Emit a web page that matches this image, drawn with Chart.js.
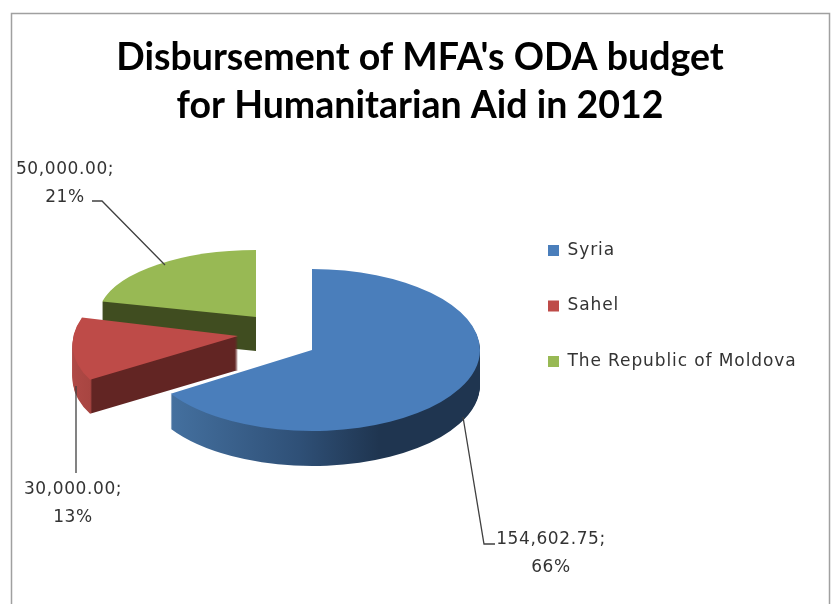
<!DOCTYPE html>
<html>
<head>
<meta charset="utf-8">
<script src="https://cdn.jsdelivr.net/npm/chart.js@4/dist/chart.umd.min.js"></script>
<style>
  html, body { margin: 0; padding: 0; background: #fff; overflow: hidden; }
  canvas { display: block; }
</style>
</head>
<body>
<canvas id="pie" width="831" height="604"></canvas>
<script>
const titleLines = ["Disbursement of MFA's ODA budget", "for Humanitarian Aid in 2012"];
const categories = ["Syria", "Sahel", "The Republic of Moldova"];
const amounts = [154602.75, 30000, 50000];
const topColors = ["#4a7ebb", "#be4b48", "#98b954"];

// where each exploded slice lands on the page (apex, ellipse radii, lean, wall depth)
const sliceBoxes = [
  { x: 312, y: 350, rx: 168, ry: 81, lean: 0, depth: 35 },
  { x: 238, y: 336, rx: 164.5, ry: 80.7, lean: -0.22, depth: 34 },
  { x: 256, y: 317, rx: 158, ry: 67, lean: 0, depth: 34 }
];
// wall shading, left to right across the ellipse
const wallStops = [
  [[0, "#4a7bb5"], [0.08, "#44709f"], [0.46, "#2f5077"], [0.7, "#1f3550"], [1, "#1f3550"]],
  [[0, "#b04a47"], [0.08, "#a84541"], [0.085, "#622523"], [1, "#622523"]],
  [[0, "#404d20"], [1, "#404d20"]]
];
const labelSpots = [
  { x: 551, y: 540 },
  { x: 73, y: 490 },
  { x: 65, y: 170 }
];
const leaders = [
  [[463, 417], [484, 544], [495, 544]],
  [[76, 386], [76, 473]],
  [[92, 201], [102, 201], [165, 265]]
];

const total = amounts.reduce((a, b) => a + b, 0);
const labelFont = '17px "DejaVu Sans"';

function placeSlice(ctx, arc, box, drop) {
  const R = arc.outerRadius;
  ctx.translate(box.x, box.y + drop);
  ctx.transform(1, 0, box.lean, 1, 0, 0);
  ctx.scale(box.rx / R, box.ry / R);
  ctx.translate(-arc.x, -arc.y);
}

function paintArc(ctx, arc, fill) {
  const saved = arc.options;
  arc.options = {
    backgroundColor: fill, borderWidth: 0, borderColor: fill, borderRadius: 0,
    borderJoinStyle: "round", borderDash: [], borderDashOffset: 0,
    offset: 0, spacing: 0, circular: true
  };
  arc.draw(ctx);
  arc.options = saved;
}

const piePlugin = {
  id: "pie3d",
  beforeDraw(chart) {
    const ctx = chart.ctx;
    ctx.save();
    ctx.strokeStyle = "#a0a0a0";
    ctx.lineWidth = 1.5;
    ctx.strokeRect(11.5, 13.5, 818, 640);
    ctx.restore();
  },
  afterLayout(chart) {
    const legend = chart.legend;
    legend.left = 509.5;
    legend.top = 203.5;
    if (!legend.spaced) {
      const plainDraw = legend.draw;
      legend.draw = function () {
        chart.ctx.letterSpacing = "0.9px";
        plainDraw.apply(legend, arguments);
        chart.ctx.letterSpacing = "0px";
      };
      legend.spaced = true;
    }
  },
  beforeDatasetDraw(chart, args) {
    const ctx = chart.ctx;
    const arcs = args.meta.data;
    // back to front so the big slice sits on top
    for (let i = arcs.length - 1; i >= 0; i--) {
      const arc = arcs[i];
      const box = sliceBoxes[i];
      const R = arc.outerRadius;
      const grad = ctx.createLinearGradient(arc.x - R, 0, arc.x + R, 0);
      wallStops[i].forEach(s => grad.addColorStop(s[0], s[1]));
      for (let d = box.depth; d > 0; d--) {
        ctx.save();
        placeSlice(ctx, arc, box, d);
        paintArc(ctx, arc, grad);
        ctx.restore();
      }
      ctx.save();
      placeSlice(ctx, arc, box, 0);
      paintArc(ctx, arc, topColors[i]);
      ctx.restore();
    }
    return false;
  },
  afterDatasetsDraw(chart) {
    const ctx = chart.ctx;
    ctx.save();
    ctx.strokeStyle = "#404040";
    ctx.lineWidth = 1.3;
    leaders.forEach(pts => {
      ctx.beginPath();
      pts.forEach((p, i) => (i ? ctx.lineTo(p[0], p[1]) : ctx.moveTo(p[0], p[1])));
      ctx.stroke();
    });
    ctx.fillStyle = "#333";
    ctx.font = labelFont;
    ctx.letterSpacing = "0.6px";
    ctx.textAlign = "center";
    ctx.textBaseline = "middle";
    amounts.forEach((v, i) => {
      const txt = v.toLocaleString("en-US", { minimumFractionDigits: 2, maximumFractionDigits: 2 }) + ";";
      const pct = Math.round(v / total * 100) + "%";
      ctx.fillText(txt, labelSpots[i].x, labelSpots[i].y);
      ctx.fillText(pct, labelSpots[i].x, labelSpots[i].y + 28);
    });
    ctx.letterSpacing = "0px";
    ctx.restore();
  }
};

new Chart(document.getElementById("pie"), {
  type: "pie",
  data: {
    labels: categories,
    datasets: [{ data: amounts, backgroundColor: topColors, borderWidth: 0 }]
  },
  options: {
    responsive: false,
    animation: false,
    layout: { padding: { left: 9, right: 0, top: 34, bottom: 0 } },
    plugins: {
      tooltip: { enabled: false },
      title: {
        display: true,
        text: titleLines,
        color: "#000",
        font: { family: "Lato", size: 37.5, weight: "bold", lineHeight: 1.28 },
        padding: { top: 0, bottom: 10 }
      },
      legend: {
        position: "right",
        align: "start",
        labels: {
          color: "#333",
          boxWidth: 11,
          boxHeight: 11,
          padding: 38.5,
          font: { family: "DejaVu Sans", size: 17 }
        }
      }
    }
  },
  plugins: [piePlugin]
});
</script>
</body>
</html>
